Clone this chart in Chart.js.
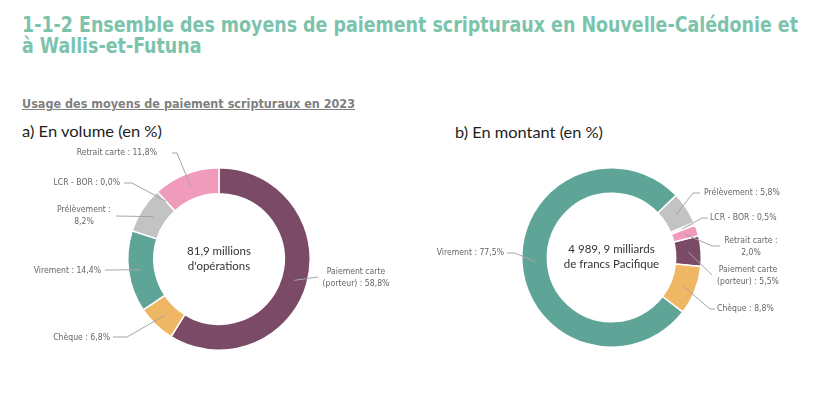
<!DOCTYPE html>
<html><head><meta charset="utf-8">
<script src="https://cdn.jsdelivr.net/npm/chart.js@4/dist/chart.umd.min.js"></script>
<style>
body{margin:0;background:#fff;width:835px;height:394px;overflow:hidden;position:relative}
.t{position:absolute;white-space:nowrap;transform-origin:0 0}
canvas{position:absolute;left:0;top:0}
</style></head><body>
<div class="t" id="title" data-w="776" style="left:22px;top:15px;font:bold 21px 'DejaVu Sans Condensed';line-height:21px;color:#7cc3ac">1-1-2 Ensemble des moyens de paiement scripturaux en Nouvelle-Calédonie et<br>à Wallis-et-Futuna</div>
<div class="t" id="sub" data-w="333" style="left:22px;top:96px;font:bold 12.5px 'DejaVu Sans Condensed';color:#7f7f7f;text-decoration:underline">Usage des moyens de paiement scripturaux en 2023</div>
<div class="t" id="ha" data-w="140" style="left:22px;top:121px;font:16px Lato;color:#1e1e1e">a) En volume (en %)</div>
<div class="t" id="hb" data-w="148" style="left:455px;top:122px;font:16px Lato;color:#1e1e1e">b) En montant (en %)</div>
<canvas id="c1" width="835" height="394"></canvas>
<canvas id="c2" width="835" height="394"></canvas>
<script>
// ---- data ----
const categories = ["Paiement carte (porteur)", "Chèque", "Virement", "Prélèvement", "LCR - BOR", "Retrait carte"];
const volumeShares = [58.8, 6.8, 14.4, 8.2, 0.0, 11.8];
const amountShares = [5.5, 8.8, 77.5, 5.8, 0.5, 2.0];
const volumeTotal = ["81,9 millions", "d'opérations"];
const amountTotal = ["4 989, 9 milliards", "de francs Pacifique"];
const colors = ["#7b4a66", "#efb664", "#5fa597", "#c3c3c3", "#f7d3df", "#f09bbb"];

// fit header widths
document.querySelectorAll('.t[data-w]').forEach(el => {
  const span = document.createElement('span'); span.style.font = getComputedStyle(el).font;
  span.style.position='absolute'; span.style.visibility='hidden'; span.style.whiteSpace='nowrap';
  span.textContent = el.id === 'title' ? el.innerHTML.split('<br>')[0] : el.textContent;
  document.body.appendChild(span);
  const w = span.getBoundingClientRect().width; span.remove();
  el.style.transform = 'scaleX(' + (parseFloat(el.dataset.w) / w) + ')';
});

const fmt = v => v.toFixed(1).replace('.', ',') + '%';
function labelLines(i, v, split) {
  const name = categories[i];
  if (split === 'colon') return [name + ' :', fmt(v)];
  if (split === 'name') { const k = name.indexOf(' ('); return [name.slice(0, k), name.slice(k + 1) + ' : ' + fmt(v)]; }
  return [name + ' : ' + fmt(v)];
}

const callout = {
  id: 'callout',
  afterDraw(chart, args, opts) {
    const ctx = chart.ctx, meta = chart.getDatasetMeta(0), vals = chart.data.datasets[0].data;
    ctx.save();
    meta.data.forEach((arc, i) => {
      const L = opts.items[i]; if (!L) return;
      const p = arc.getProps(['x', 'y', 'startAngle', 'endAngle', 'innerRadius', 'outerRadius'], true);
      const a = (p.startAngle + p.endAngle) / 2, r = (p.innerRadius + p.outerRadius) / 2;
      const sx = p.x + Math.cos(a) * r, sy = p.y + Math.sin(a) * r;
      ctx.strokeStyle = '#a5a5a5'; ctx.lineWidth = 1;
      ctx.beginPath(); ctx.moveTo(sx, sy);
      L.path.forEach(q => ctx.lineTo(q[0], q[1]));
      ctx.stroke();
      const lines = labelLines(i, vals[i], L.split);
      ctx.font = "8.6px 'DejaVu Sans Condensed'"; ctx.fillStyle = '#666'; ctx.textBaseline = 'middle';
      ctx.textAlign = L.align;
      lines.forEach((t, k) => ctx.fillText(t, L.x, L.y + k * 12));
    });
    // center text
    ctx.font = "11.5px Lato"; ctx.fillStyle = '#333'; ctx.textAlign = 'center';
    const c = meta.data[0];
    opts.center.forEach((t, k) => ctx.fillText(t, c.x, c.y - 8 + k * 15));
    ctx.restore();
  }
};

function makeChart(id, data, rotation, padding, items, center) {
  return new Chart(document.getElementById(id), {
    type: 'doughnut',
    data: { labels: categories, datasets: [{ data, backgroundColor: colors, borderColor: '#fff', borderWidth: 1.5 }] },
    options: {
      responsive: false, animation: false, rotation, cutout: '71.5%',
      layout: { padding },
      plugins: { legend: { display: false }, tooltip: { enabled: false }, callout: { items, center } }
    },
    plugins: [callout]
  });
}

makeChart('c1', volumeShares, 0, { left: 127, right: 524, top: 167, bottom: 43 }, [
  { path: [[318, 277]], align: 'center', x: 356, y: 272, split: 'name' },
  { path: [[127, 337], [113, 337]], align: 'right', x: 110, y: 338 },
  { path: [[105, 270]], align: 'right', x: 101, y: 271 },
  { path: [[116, 216]], align: 'center', x: 84, y: 210, split: 'colon' },
  { path: [[132, 183], [124, 183]], align: 'right', x: 120, y: 183 },
  { path: [[177, 153], [172, 153]], align: 'right', x: 157, y: 153 }
], volumeTotal);

makeChart('c2', amountShares, 76, { left: 521, right: 133, top: 166, bottom: 45 }, [
  { path: [[712, 275]], align: 'center', x: 748, y: 270, split: 'name' },
  { path: [[710, 309], [715, 309]], align: 'left', x: 717, y: 309 },
  { path: [[515, 253], [507, 253]], align: 'right', x: 504, y: 253 },
  { path: [[693, 193], [700, 193]], align: 'left', x: 704, y: 193 },
  { path: [[702, 218], [708, 218]], align: 'left', x: 710, y: 218 },
  { path: [[712, 246], [720, 246]], align: 'center', x: 751, y: 241, split: 'colon' }
], amountTotal);
</script></body></html>
